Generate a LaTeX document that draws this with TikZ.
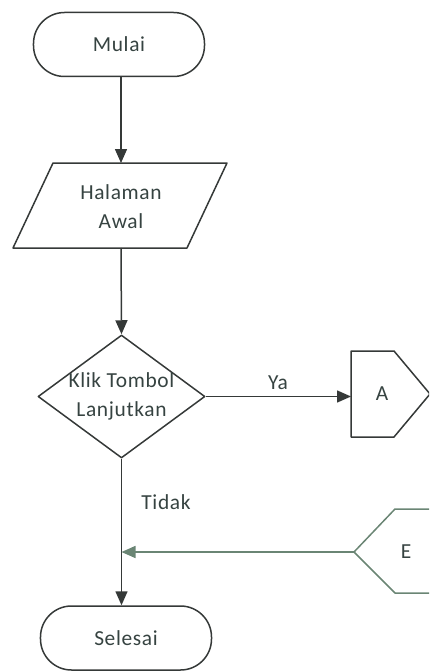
\documentclass[tikz,border=0pt]{standalone}
\usepackage{fontspec}
\setmainfont{Carlito}[LetterSpace=3]
\usetikzlibrary{arrows.meta,shapes.geometric}
\definecolor{ink}{HTML}{353938}
\definecolor{txt}{HTML}{364341}
\definecolor{sage}{HTML}{6A8574}
\begin{document}
\begin{tikzpicture}[x=1bp,y=-1bp,
  outline/.style={draw=ink, line width=1.5bp, line join=round},
  terminal/.style={outline, rounded corners=31bp, minimum width=171bp,
    minimum height=64bp, inner sep=0pt},
  decision/.style={outline, diamond, minimum width=167bp, minimum height=123bp,
    inner sep=0pt},
  txtlabel/.style={text=txt, align=center, inner sep=0pt,
    font=\fontsize{21.5}{29}\selectfont},
  flow/.style={draw=ink, line width=1.5bp,
    -{Triangle[length=14bp,width=12bp]}}
]
\useasboundingbox (0,0) rectangle (429,671);
\clip (0,0) rectangle (429,671);

% start terminal
\node[terminal] (mulai) at (119,44.5) {};
\node[txtlabel] (mulaiText) at (mulai) {Mulai};

% input: parallelogram
\draw[outline] (53,163) -- (227,163) -- (187,248) -- (13,248) -- cycle;
\coordinate (inTop) at (121,163);
\coordinate (inBot) at (121,248);
\node[txtlabel] (input) at (121,207) {Halaman\\Awal};

% decision
\node[decision] (cek) at (121.5,396.5) {};
\node[txtlabel] (cekText) at (cek) {Klik Tombol\\Lanjutkan};

% off-page connector A
\draw[outline] (351,351) -- (394,351) -- (430,394) -- (394,437) -- (351,437) -- cycle;
\coordinate (Ain) at (351,396.5);
\node[txtlabel] (A) at (382,394) {A};

% off-page connector E
\draw[outline, draw=sage] (440,509) -- (395,509) -- (354,552) -- (395,593) -- (440,593);
\coordinate (Eout) at (354,552);
\node[txtlabel] (E) at (406,552) {E};

% end terminal
\node[terminal] (selesai) at (126,638) {};
\node[txtlabel] (selesaiText) at (selesai) {Selesai};

% connectors
\draw[flow] (mulai.south -| inTop) -- (inTop);
\draw[flow] (inBot) -- (cek.north);
\draw[flow] (cek.east) -- (Ain);
\draw[flow] (cek.south) -- (cek.south |- selesai.north);
\draw[flow, draw=sage, fill=sage] (Eout) -- (Eout -| cek.south);

% branch labels
\node[txtlabel] (ya) at (278,383) {Ya};
\node[txtlabel] (tidak) at (166,502) {Tidak};
\end{tikzpicture}
\end{document}
